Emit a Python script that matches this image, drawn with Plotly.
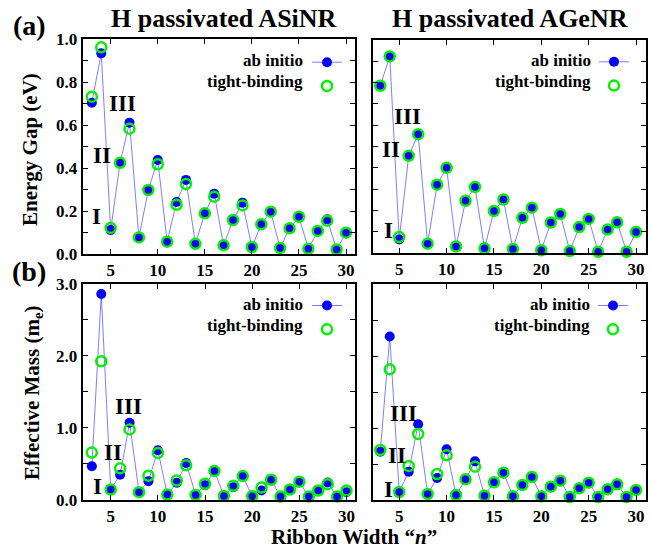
import plotly.graph_objects as go

# ---------------- data ----------------
n_width = list(range(3, 31))

asinr_gap_abinitio = [0.705, 0.935, 0.111, 0.425, 0.612, 0.077, 0.298, 0.438, 0.057, 0.242,
                      0.345, 0.047, 0.189, 0.281, 0.040, 0.158, 0.239, 0.032, 0.138, 0.197,
                      0.027, 0.119, 0.173, 0.024, 0.107, 0.161, 0.021, 0.099]
asinr_gap_tb = [0.733, 0.963, 0.121, 0.425, 0.584, 0.077, 0.298, 0.418, 0.057, 0.229,
                0.326, 0.047, 0.189, 0.267, 0.040, 0.158, 0.226, 0.032, 0.138, 0.197,
                0.027, 0.119, 0.173, 0.024, 0.107, 0.155, 0.021, 0.099]

agenr_gap_abinitio = [0.785, 0.923, 0.063, 0.456, 0.558, 0.044, 0.321, 0.400, 0.031, 0.245,
                      0.310, 0.022, 0.197, 0.251, 0.019, 0.165, 0.213, 0.013, 0.143, 0.183,
                      0.009, 0.122, 0.160, 0.006, 0.110, 0.144, 0.006, 0.099]
agenr_gap_tb = [0.785, 0.923, 0.075, 0.456, 0.558, 0.044, 0.321, 0.400, 0.031, 0.245,
                0.310, 0.022, 0.197, 0.251, 0.019, 0.165, 0.213, 0.013, 0.143, 0.183,
                0.009, 0.122, 0.160, 0.006, 0.110, 0.144, 0.006, 0.099]

asinr_mass_abinitio = [0.463, 2.86, 0.140, 0.346, 1.07, 0.103, 0.257, 0.687, 0.070, 0.234,
                       0.509, 0.065, 0.201, 0.397, 0.051, 0.173, 0.327, 0.047, 0.126, 0.276,
                       0.042, 0.140, 0.248, 0.042, 0.126, 0.238, 0.042, 0.103]
asinr_mass_tb = [0.654, 1.925, 0.140, 0.435, 0.977, 0.103, 0.332, 0.650, 0.070, 0.266,
                 0.477, 0.065, 0.220, 0.397, 0.051, 0.192, 0.327, 0.047, 0.168, 0.276,
                 0.042, 0.140, 0.248, 0.042, 0.126, 0.215, 0.042, 0.126]

agenr_mass_abinitio = [0.671, 2.27, 0.111, 0.394, 1.051, 0.083, 0.306, 0.704, 0.069, 0.287,
                       0.537, 0.060, 0.245, 0.380, 0.051, 0.208, 0.319, 0.051, 0.185, 0.269,
                       0.042, 0.162, 0.241, 0.042, 0.148, 0.218, 0.042, 0.139]
agenr_mass_tb = [0.694, 1.815, 0.111, 0.472, 0.917, 0.083, 0.361, 0.620, 0.069, 0.287,
                 0.463, 0.060, 0.245, 0.380, 0.051, 0.208, 0.319, 0.051, 0.185, 0.269,
                 0.042, 0.162, 0.241, 0.042, 0.148, 0.218, 0.042, 0.139]

x_ticks = [5, 10, 15, 20, 25, 30]
panel_titles = ["H passivated ASiNR", "H passivated AGeNR"]
series_names = ["ab initio", "tight-binding"]
roman = ["III", "II", "I"]

# ---------------- layout helpers ----------------
W, H = 652, 548
def px(x):
    return x / W
def py(y):
    return 1 - y / H

FONT = "Liberation Serif"
BLUE = "#0000ff"
GREEN = "#00f000"

fig = go.Figure()

panels = [
    ("x", "y", asinr_gap_abinitio, asinr_gap_tb, "legend", (82.7, 354.5), (39.4, 253.9), [0, 1.0], 0.2, 0.1, True),
    ("x2", "y2", agenr_gap_abinitio, agenr_gap_tb, "legend2", (372.7, 646), (40, 253), [0, 1.0], 0.2, 0.1, False),
    ("x3", "y3", asinr_mass_abinitio, asinr_mass_tb, "legend3", (82.7, 355), (284, 499.6), [0, 3.0], 1.0, 0.5, True),
    ("x4", "y4", agenr_mass_abinitio, agenr_mass_tb, "legend4", (372.7, 646), (284, 500), [0, 3.0], 1.0, 0.5, False),
]

tickfont = dict(family=FONT, size=17, color="black", weight="bold")

for i, (xa, ya, ab, tb, lg, xd, yd, yr, dt, mdt, showlab) in enumerate(panels):
    fig.add_trace(go.Scatter(
        x=n_width, y=ab, mode="lines+markers", name=" ",
        xaxis=xa, yaxis=ya, legend=lg,
        line=dict(color="rgba(40,40,255,0.6)", width=1),
        marker=dict(color=BLUE, size=10, line=dict(width=0)),
        cliponaxis=False,
    ))
    fig.add_trace(go.Scatter(
        x=n_width, y=tb, mode="markers", name=" ",
        xaxis=xa, yaxis=ya, legend=lg,
        marker=dict(color=GREEN, size=10, symbol="circle-open", line=dict(width=2.5, color=GREEN)),
        cliponaxis=False,
    ))
    suffix = "" if i == 0 else str(i + 1)
    xrange = [2.03, 30.9] if i in (0, 2) else [2.2, 31.05]
    fig.layout["xaxis" + suffix] = dict(
        domain=[px(xd[0]), px(xd[1])], anchor=ya, range=xrange,
        tickvals=x_ticks, ticks="inside", ticklen=5, tickwidth=1, tickcolor="black",
        showline=True, linewidth=2, linecolor="black", mirror="ticks",
        showgrid=False, zeroline=False, tickfont=tickfont, automargin=False,
    )
    fig.layout["yaxis" + suffix] = dict(
        domain=[py(yd[1]), py(yd[0])], anchor=xa, range=yr,
        dtick=dt, tick0=0, tickformat=".1f", ticks="inside", ticklen=5, tickwidth=1, tickcolor="black",
        minor=dict(dtick=mdt, tick0=0, ticks="inside", ticklen=5, tickwidth=1, tickcolor="black", showgrid=False),
        showline=True, linewidth=2, linecolor="black", mirror="ticks",
        showgrid=False, zeroline=False, tickfont=tickfont, showticklabels=showlab,
        automargin=False,
    )

# legends (symbol only; text is right-aligned to the left as in the reference)
legend_marker_pos = [(327, 60.7), (614, 60.3), (327, 304), (613, 304)]
leg_font = dict(family=FONT, size=16, color="black")
for i, (mx, my) in enumerate(legend_marker_pos):
    key = "legend" if i == 0 else "legend" + str(i + 1)
    fig.layout[key] = dict(
        x=px(mx - 20), y=py(my - 15.4), xanchor="left", yanchor="top",
        bgcolor="rgba(0,0,0,0)", borderwidth=0, font=leg_font,
        itemwidth=30, tracegroupgap=0,
    )

annotations = []
legend_text_right = [305, 593, 305, 592]
for i, (mx, my) in enumerate(legend_marker_pos):
    for j, name in enumerate(series_names):
        annotations.append(dict(
            x=px(legend_text_right[i]), y=py(my + 21 * j), xref="paper", yref="paper",
            text=name, showarrow=False, xanchor="right", yanchor="middle",
            font=dict(family=FONT, size=17, color="black", weight="bold"),
        ))

roman_pos = [
    [(122.2, 103.3), (101.7, 155.7), (96.2, 216.7)],
    [(407.2, 116.7), (391.3, 150), (388.3, 230)],
    [(128.3, 406.7), (113, 452.3), (97.7, 486.7)],
    [(403, 413.3), (397, 455.7), (388.3, 489)],
]
for pos in roman_pos:
    for label, (rx, ry) in zip(roman, pos):
        annotations.append(dict(
            x=px(rx), y=py(ry), xref="paper", yref="paper", text=label, showarrow=False,
            xanchor="center", yanchor="middle",
            font=dict(family=FONT, size=23, color="black", weight="bold"),
        ))

for t, cx in zip(panel_titles, [224, 510]):
    annotations.append(dict(
        x=px(cx), y=py(19), xref="paper", yref="paper", text=t, showarrow=False,
        xanchor="center", yanchor="middle",
        font=dict(family=FONT, size=26, color="black", weight="bold"),
    ))

for t, cy in zip(["(a)", "(b)"], [25, 271]):
    annotations.append(dict(
        x=px(29), y=py(cy), xref="paper", yref="paper", text=t, showarrow=False,
        xanchor="center", yanchor="middle",
        font=dict(family=FONT, size=28, color="black", weight="bold"),
    ))

annotations.append(dict(
    x=px(30), y=py(150), xref="paper", yref="paper", text="Energy Gap (eV)", showarrow=False,
    textangle=-90, xanchor="center", yanchor="middle",
    font=dict(family=FONT, size=21, color="black", weight="bold"),
))
annotations.append(dict(
    x=px(33), y=py(393), xref="paper", yref="paper", text="Effective Mass (m<sub>e</sub>)", showarrow=False,
    textangle=-90, xanchor="center", yanchor="middle",
    font=dict(family=FONT, size=21, color="black", weight="bold"),
))
annotations.append(dict(
    x=px(354), y=py(537), xref="paper", yref="paper", text="Ribbon Width \u201c<i>n</i>\u201d", showarrow=False,
    xanchor="center", yanchor="middle",
    font=dict(family=FONT, size=21, color="black", weight="bold"),
))

fig.update_layout(
    width=W, height=H,
    margin=dict(l=0, r=0, t=0, b=0, pad=0),
    paper_bgcolor="white", plot_bgcolor="white",
    showlegend=True,
    annotations=annotations,
    font=dict(family=FONT, color="black"),
)

fig.write_html(
    "out.html",
    config={"displayModeBar": False},
    post_script="document.body.style.margin='0';document.body.style.padding='0';document.body.style.overflow='hidden';",
)
